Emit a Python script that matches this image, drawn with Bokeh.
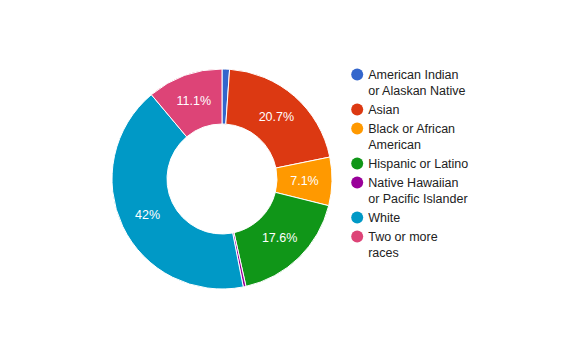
import math
from bokeh.plotting import figure
from bokeh.models import Range1d, ColumnDataSource
from bokeh.core.properties import value
from bokeh.embed import file_html
from bokeh.resources import INLINE

categories = ["American Indian\nor Alaskan Native", "Asian", "Black or African\nAmerican",
              "Hispanic or Latino", "Native Hawaiian\nor Pacific Islander", "White",
              "Two or more\nraces"]
percents = [1.1, 20.7, 7.1, 17.6, 0.4, 42.0, 11.1]
colors = ["#3366cc", "#dc3912", "#ff9900", "#109618", "#990099", "#0099c6", "#dd4477"]

W, H = 562, 341
p = figure(width=W, height=H, output_backend="svg", toolbar_location=None,
           x_range=Range1d(0, W), y_range=Range1d(0, H),
           x_axis_location=None, y_axis_location=None, min_border=0)
p.grid.visible = False
p.outline_line_color = None
p.background_fill_color = "white"

FONT = value("Liberation Sans")

# donut
cx, cy = 221.5, 162.5
r_out, r_in = 110, 55
total = sum(percents)
starts, ends, lx, ly, labels = [], [], [], [], []
cum = 0.0
for v in percents:
    a0 = math.pi / 2 - 2 * math.pi * cum / total
    cum += v
    a1 = math.pi / 2 - 2 * math.pi * cum / total
    starts.append(a0)
    ends.append(a1)
    mid = (a0 + a1) / 2
    rm = (r_out + r_in) / 2
    if v / total >= 0.05:
        lx.append(cx + rm * math.cos(mid))
        ly.append(cy + rm * math.sin(mid))
        labels.append(f"{v:g}%")

src = ColumnDataSource(dict(start=starts, end=ends, color=colors))
p.annular_wedge(x=cx, y=cy, inner_radius=r_in, outer_radius=r_out,
                start_angle="start", end_angle="end", direction="clock",
                fill_color="color", line_color="white", line_width=1, source=src)

p.text(x=lx, y=ly, text=labels, text_color="white", text_font=FONT,
       text_font_size="12.5px", text_align="center", text_baseline="middle")

# legend
lg_x = 356.7
y = 341 - 74
mx, my, tx, ty, tt = [], [], [], [], []
for cat in categories:
    lines = cat.split("\n")
    mx.append(lg_x)
    my.append(y)
    for ln in lines:
        tx.append(lg_x + 11)
        ty.append(y)
        tt.append(ln)
        y -= 16
    y -= 3
p.scatter(x=mx, y=my, size=12, marker="circle", color=colors, line_color=None)
p.text(x=tx, y=ty, text=tt, text_color="#222222", text_font=FONT,
       text_font_size="12.5px", text_align="left", text_baseline="middle")

open("out.html", "w").write(file_html(p, INLINE))
